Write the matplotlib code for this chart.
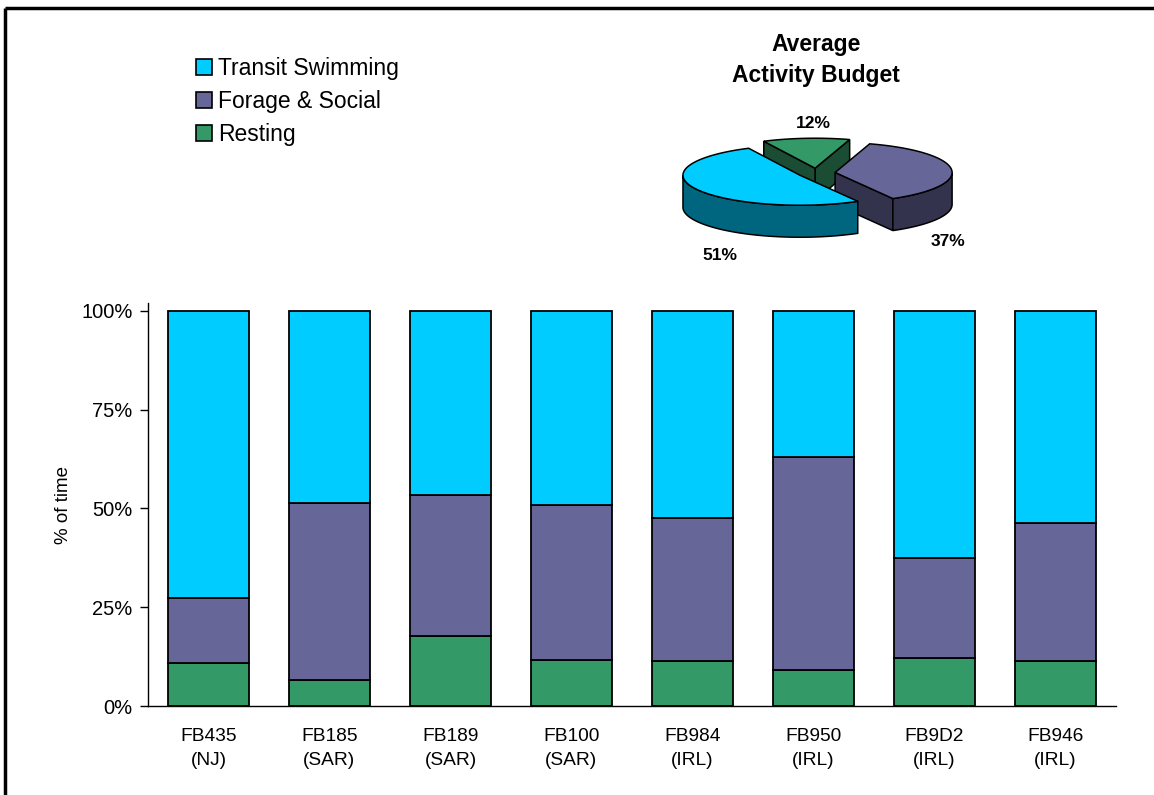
import matplotlib
matplotlib.use("Agg")
import matplotlib.pyplot as plt
from matplotlib.patches import Polygon, Rectangle
import numpy as np

plt.rcParams['font.family'] = ['Liberation Sans', 'DejaVu Sans']

# data
animals = ["FB435\n(NJ)", "FB185\n(SAR)", "FB189\n(SAR)", "FB100\n(SAR)",
           "FB984\n(IRL)", "FB950\n(IRL)", "FB9D2\n(IRL)", "FB946\n(IRL)"]
resting = [11.0, 6.5, 17.8, 11.6, 11.5, 9.0, 12.2, 11.3]
forage_top = [27.4, 51.3, 53.5, 51.0, 47.5, 63.0, 37.5, 46.2]
forage = [t - r for t, r in zip(forage_top, resting)]
transit = [100 - t for t in forage_top]

series_names = ["Transit Swimming", "Forage & Social", "Resting"]
pie_values = [51, 37, 12]   # transit, forage, resting

top_cols = ["#00CCFF", "#666699", "#339966"]
side_cols = ["#006680", "#33334D", "#1A4D33"]

fig = plt.figure(figsize=(11.54, 7.95), dpi=100)

# ---- stacked bars
ax = fig.add_axes([148/1154, 1-706/795, 968/1154, 403/795])
x = np.arange(len(animals))
w = 0.67
ax.bar(x, np.array(resting)/100, w, color=top_cols[2], edgecolor='black', lw=1.3)
ax.bar(x, np.array(forage)/100, w, bottom=np.array(resting)/100,
       color=top_cols[1], edgecolor='black', lw=1.3)
ax.bar(x, np.array(transit)/100, w, bottom=np.array(forage_top)/100,
       color=top_cols[0], edgecolor='black', lw=1.3)
ax.set_xlim(-0.5, len(animals)-0.5)
ax.set_ylim(0, 1.02)
ax.set_yticks([0, .25, .5, .75, 1])
ax.set_yticklabels(["0%", "25%", "50%", "75%", "100%"])
ax.set_xticks(x)
ax.set_xticklabels(animals, linespacing=1.55)
ax.tick_params(axis='y', length=6, width=1, labelsize=14.5, pad=5)
ax.tick_params(axis='x', length=0, labelsize=13.8, pad=16)
for s in ['top', 'right']:
    ax.spines[s].set_visible(False)
for s in ['left', 'bottom']:
    ax.spines[s].set_linewidth(1)
ax.set_ylabel("% of time", fontsize=13.5, labelpad=7)

# legend
handles = [Rectangle((0, 0), 1, 1, facecolor=c, edgecolor='black', lw=1.2) for c in top_cols]
fig.legend(handles, series_names, loc='upper left', bbox_to_anchor=(196/1154, 1-57/795),
           frameon=False, fontsize=16.5, handlelength=0.7, handleheight=0.7,
           handletextpad=0.25, labelspacing=0.44, borderaxespad=0, borderpad=0)

# ---- 3D-looking pie, drawn in pixel coordinates
pa = fig.add_axes([0, 0, 1, 1], zorder=5)
pa.set_xlim(0, 1154)
pa.set_ylim(795, 0)
pa.axis('off')

cx, cy = 816.5, 173.0
ra, rb, depth, expl = 117.0, 30.0, 32.0, 18.7
start = 116.0


def arc(x0, y0, t):
    r = np.radians(t)
    return np.column_stack([x0 + ra*np.cos(r), y0 - rb*np.sin(r)])


slices = []
t = start
for i, v in enumerate(pie_values):
    span = 360.0*v/sum(pie_values)
    slices.append((i, t, t + span))
    t += span

# back slices first
slices.sort(key=lambda s: -np.sin(np.radians((s[1]+s[2])/2)))
for i, t0, t1 in slices:
    m = np.radians((t0+t1)/2)
    x0 = cx + expl*np.cos(m)
    y0 = cy - expl*np.sin(m)*rb/ra
    ts = np.linspace(t0, t1, 200)
    # radial walls
    for te, vis in [(t0, np.cos(np.radians(t0)) > 0), (t1, np.cos(np.radians(t1)) < 0)]:
        if vis:
            p = arc(x0, y0, np.array([te]))[0]
            poly = [(x0, y0), tuple(p), (p[0], p[1]+depth), (x0, y0+depth)]
            pa.add_patch(Polygon(poly, closed=True, fc=side_cols[i], ec='black', lw=1.1))
    # curved front wall
    fr = ts[np.sin(np.radians(ts)) <= 1e-9]
    if len(fr) > 1:
        top = arc(x0, y0, fr)
        bot = top + [0, depth]
        pa.add_patch(Polygon(np.vstack([top, bot[::-1]]), closed=True,
                             fc=side_cols[i], ec='black', lw=1.1))
    # top face
    pts = np.vstack([[x0, y0], arc(x0, y0, ts)])
    pa.add_patch(Polygon(pts, closed=True, fc=top_cols[i], ec='black', lw=1.1))

label_pos = [(720, 256), (948, 241), (813, 123)]
for v, (lx, ly) in zip(pie_values, label_pos):
    pa.text(lx, ly, f"{v}%", ha='center', va='center', fontsize=12.5, fontweight='bold')

pa.text(816, 60, "Average\nActivity Budget", ha='center', va='center',
        fontsize=16.5, fontweight='bold', linespacing=1.42)

# frame lines (top and left)
pa.plot([5, 1154], [8, 8], color='black', lw=2.5, solid_capstyle='butt')
pa.plot([5, 5], [8, 795], color='black', lw=2.5, solid_capstyle='butt')

fig.savefig("out.png", dpi=100)
